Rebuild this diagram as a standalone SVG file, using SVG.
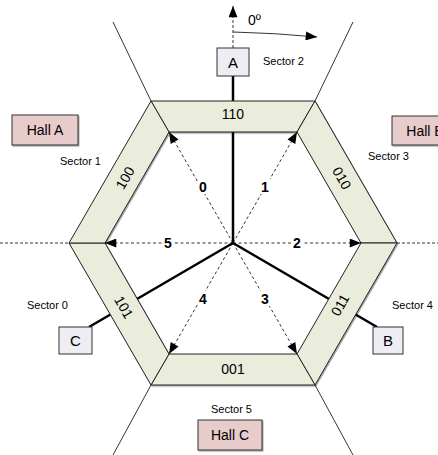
<svg xmlns="http://www.w3.org/2000/svg" width="438" height="455" viewBox="0 0 438 455">
  <defs>
    <marker id="tri" viewBox="0 0 10 8" refX="10" refY="4" markerWidth="12" markerHeight="9" markerUnits="userSpaceOnUse" orient="auto">
      <path d="M0,0 L10,4 L0,8 z" fill="#000"/>
    </marker>
    <filter id="shade" x="-10%" y="-10%" width="130%" height="130%">
      <feDropShadow dx="1" dy="1.2" stdDeviation="0.6" flood-color="#000" flood-opacity="0.35"/>
    </filter>
  </defs>
  <style>
    text { font-family: "Liberation Sans", Arial, sans-serif; fill: #000; }
    .band { fill: #EAEDDC; stroke: #222; stroke-width: 1; stroke-linejoin: miter; }
    .code { font-size: 14px; text-anchor: middle; }
    .sector { font-size: 11px; }
    .hall rect { fill: #E8CBCB; stroke: #333; stroke-width: 1; }
    .hall text { font-size: 14px; text-anchor: middle; }
    .phase rect { fill: #EEEDF3; stroke: #333; stroke-width: 1; }
    .phase text { font-size: 15px; text-anchor: middle; }
    .thin { stroke: #000; stroke-width: 0.8; fill: none; }
    .dash { stroke: #000; stroke-width: 0.8; stroke-dasharray: 3 2; fill: none; }
    .vec { stroke: #000; stroke-width: 0.8; stroke-dasharray: 3 2.5; fill: none; marker-end: url(#tri); }
    .winding { stroke: #000; stroke-width: 2.5; fill: none; }
    .num { font-size: 14px; font-weight: bold; text-anchor: middle; }
    .numbg { fill: #fff; }
  </style>

  <!-- sector boundary lines and axis -->
  <g id="connectors">
    <line class="thin" x1="151" y1="101" x2="113" y2="22"/>
    <line class="thin" x1="315" y1="101" x2="353" y2="22"/>
    <line class="thin" x1="151" y1="385" x2="113" y2="455"/>
    <line class="thin" x1="315" y1="385" x2="353" y2="455"/>
    <line class="dash" x1="0" y1="243" x2="69" y2="243"/>
    <line class="dash" x1="397" y1="243" x2="438" y2="243"/>
    <!-- 0 degree reference and rotation direction -->
    <line class="dash" x1="233" y1="48" x2="233" y2="6" style="marker-end:url(#tri)"/>
    <path class="thin" d="M233,32 Q276,33 317,37" style="marker-end:url(#tri)"/>
  </g>

  <!-- phase windings (run beneath the band) -->
  <g id="windings">
    <line class="winding" x1="233" y1="243" x2="233" y2="76"/>
    <line class="winding" x1="233" y1="243" x2="377" y2="327"/>
    <line class="winding" x1="233" y1="243" x2="89" y2="327"/>
  </g>

  <!-- hall state band: six segments -->
  <g id="band" filter="url(#shade)">
    <polygon class="band" points="151,101 315,101 297,132 169,132"/>
    <polygon class="band" points="315,101 397,243 361,243 297,132"/>
    <polygon class="band" points="397,243 315,385 297,354 361,243"/>
    <polygon class="band" points="315,385 151,385 169,354 297,354"/>
    <polygon class="band" points="151,385 69,243 105,243 169,354"/>
    <polygon class="band" points="69,243 151,101 169,132 105,243"/>
  </g>
  <g id="band-codes">
    <text class="code" x="233" y="119">110</text>
    <text class="code" x="233" y="374">001</text>
    <text class="code" transform="translate(125,178) rotate(-60)" y="5">100</text>
    <text class="code" transform="translate(342,178) rotate(60)" y="5">010</text>
    <text class="code" transform="translate(124,307) rotate(60)" y="5">101</text>
    <text class="code" transform="translate(340,305) rotate(-60)" y="5">011</text>
  </g>

  <!-- sector vectors -->
  <g id="vectors">
    <line class="vec" x1="233" y1="243" x2="169" y2="132"/>
    <line class="vec" x1="233" y1="243" x2="297" y2="132"/>
    <line class="vec" x1="233" y1="243" x2="361" y2="243"/>
    <line class="vec" x1="233" y1="243" x2="297" y2="354"/>
    <line class="vec" x1="233" y1="243" x2="169" y2="354"/>
    <line class="vec" x1="233" y1="243" x2="105" y2="243"/>
  </g>
  <g id="vector-labels">
    <rect class="numbg" x="198" y="179" width="10" height="15"/>
    <text class="num" x="203" y="192">0</text>
    <rect class="numbg" x="260" y="179" width="10" height="15"/>
    <text class="num" x="265" y="192">1</text>
    <rect class="numbg" x="292" y="236" width="10" height="14"/>
    <text class="num" x="297" y="248">2</text>
    <rect class="numbg" x="260" y="291" width="10" height="15"/>
    <text class="num" x="265" y="304">3</text>
    <rect class="numbg" x="198" y="291" width="10" height="15"/>
    <text class="num" x="203" y="304">4</text>
    <rect class="numbg" x="163" y="236" width="10" height="14"/>
    <text class="num" x="168" y="248">5</text>
  </g>

  <!-- phase terminals -->
  <g id="phase-a" class="phase">
    <rect x="217" y="48" width="32" height="28"/>
    <text x="233" y="68">A</text>
  </g>
  <g id="phase-b" class="phase">
    <rect x="373" y="327" width="30" height="27"/>
    <text x="388" y="346">B</text>
  </g>
  <g id="phase-c" class="phase">
    <rect x="59" y="327" width="33" height="27"/>
    <text x="75.5" y="346">C</text>
  </g>

  <!-- hall sensors -->
  <g id="hall-a" class="hall">
    <rect x="12" y="115" width="66" height="30" filter="url(#shade)"/>
    <text x="45" y="135">Hall A</text>
  </g>
  <g id="hall-b" class="hall">
    <rect x="392" y="116" width="66" height="29" filter="url(#shade)"/>
    <text x="425" y="136">Hall B</text>
  </g>
  <g id="hall-c" class="hall">
    <rect x="198" y="420" width="64" height="30" filter="url(#shade)"/>
    <text x="230" y="440">Hall C</text>
  </g>

  <!-- sector names and angle reference -->
  <g id="sector-labels">
    <text class="sector" x="60" y="165">Sector 1</text>
    <text class="sector" x="263" y="65">Sector 2</text>
    <text class="sector" x="368" y="160">Sector 3</text>
    <text class="sector" x="392" y="309">Sector 4</text>
    <text class="sector" x="211" y="413">Sector 5</text>
    <text class="sector" x="27" y="309">Sector 0</text>
    <text x="248" y="25" style="font-size:14px">0º</text>
  </g>
</svg>
